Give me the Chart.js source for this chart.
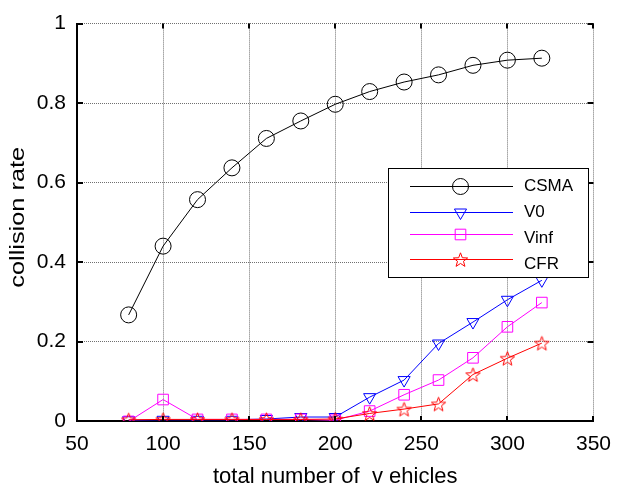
<!DOCTYPE html>
<html>
<head>
<meta charset="utf-8">
<script src="https://cdn.jsdelivr.net/npm/chart.js@4/dist/chart.umd.min.js"></script>
<style>
  html, body { margin: 0; padding: 0; background: #fff; }
  #wrap { width: 622px; height: 495px; }
</style>
</head>
<body>
<div id="wrap"><canvas id="c" width="622" height="495"></canvas></div>
<script>
// ---------- DATA ----------
const vehicles = [80, 100, 120, 140, 160, 180, 200, 220, 240, 260, 280, 300, 320];
const csma = [0.267, 0.440, 0.557, 0.637, 0.711, 0.755, 0.797, 0.829, 0.853, 0.871, 0.895, 0.908, 0.913];
const v0   = [0.002, 0.003, 0.003, 0.003, 0.005, 0.010, 0.010, 0.060, 0.103, 0.195, 0.249, 0.305, 0.354];
const vinf = [-0.001, 0.054, 0.004, 0.004, 0.004, 0.004, 0.002, 0.025, 0.066, 0.103, 0.159, 0.237, 0.298];
const cfr  = [0.003, 0.004, 0.004, 0.004, 0.004, 0.004, 0.005, 0.019, 0.030, 0.043, 0.117, 0.158, 0.196];
const seriesNames = ['CSMA', 'V0', 'Vinf', 'CFR'];
const xTicks = [50, 100, 150, 200, 250, 300, 350];
const yTicks = [0, 0.2, 0.4, 0.6, 0.8, 1];
const xTitle = 'total number of  v ehicles';
const yTitle = 'collision rate';

const FONT = 'Arial, "Liberation Sans", Helvetica, sans-serif';
Chart.defaults.font.family = FONT;
Chart.defaults.color = '#000';

// ---------- star marker (Chart.js 'star' is an asterisk) ----------
function starImage(color, r) {
  const s = Math.ceil(r * 2 + 4);
  const cv = document.createElement('canvas');
  cv.width = s; cv.height = s;
  const g = cv.getContext('2d');
  g.strokeStyle = color; g.lineWidth = 1;
  g.beginPath();
  for (let i = 0; i < 10; i++) {
    const rr = i % 2 ? r * 0.42 : r;
    const a = -Math.PI / 2 + i * Math.PI / 5;
    const px = s / 2 + Math.cos(a) * rr, py = s / 2 + Math.sin(a) * rr + 0.8;
    i ? g.lineTo(px, py) : g.moveTo(px, py);
  }
  g.closePath(); g.stroke();
  return cv;
}
const star = starImage('#ff0000', 7.5);

const pts = (ys) => vehicles.map((x, i) => ({ x, y: ys[i] }));

const sets = [
  { label: 'CSMA', data: pts(csma), borderColor: '#000', pointStyle: 'circle', pointRadius: 8, pointRotation: 0, order: 3 },
  { label: 'V0', data: pts(v0), borderColor: '#0000ff', pointStyle: 'triangle', pointRadius: 7, pointRotation: 180, order: 2 },
  { label: 'Vinf', data: pts(vinf), borderColor: '#ff00ff', pointStyle: 'rect', pointRadius: 7.5, pointRotation: 0, order: 1 },
  { label: 'CFR', data: pts(cfr), borderColor: '#ff0000', pointStyle: star, pointRadius: 8, pointRotation: 0, order: 0 }
].map(d => Object.assign(d, {
  borderWidth: 1,
  pointBorderColor: d.borderColor,
  pointBackgroundColor: 'rgba(0,0,0,0)',
  pointBorderWidth: 1,
  tension: 0,
  fill: false
}));

// ---------- inward tick marks (MATLAB style) ----------
const tickMarks = {
  id: 'tickMarks',
  afterDatasetsDraw(chart) {
    const { ctx, chartArea: a, scales: { x, y } } = chart;
    ctx.save();
    ctx.strokeStyle = '#000';
    ctx.lineWidth = 2;
    ctx.beginPath();
    xTicks.forEach(v => {
      const px = Math.round(x.getPixelForValue(v));
      ctx.moveTo(px, a.bottom); ctx.lineTo(px, a.bottom - 5);
      ctx.moveTo(px, a.top); ctx.lineTo(px, a.top + 5);
    });
    yTicks.forEach(v => {
      const py = Math.round(y.getPixelForValue(v));
      ctx.moveTo(a.left, py); ctx.lineTo(a.left + 6, py);
      ctx.moveTo(a.right, py); ctx.lineTo(a.right - 6, py);
    });
    ctx.stroke();
    ctx.restore();
  }
};

// y title: the original is stretched along its length
const yTitlePlugin = {
  id: 'yTitlePlugin',
  afterDraw(chart) {
    const { ctx, chartArea: a } = chart;
    ctx.save();
    ctx.translate(19, (a.top + a.bottom) / 2 - 5);
    ctx.rotate(-Math.PI / 2);
    ctx.scale(1.3, 1);
    ctx.font = '19.5px ' + FONT;
    ctx.fillStyle = '#000';
    ctx.textAlign = 'center';
    ctx.textBaseline = 'middle';
    ctx.fillText(yTitle, 0, 0);
    ctx.restore();
  }
};

// ---------- legend box, inside the plot ----------
const boxLegend = {
  id: 'boxLegend',
  afterDraw(chart) {
    const { ctx } = chart;
    const bx = 388.5, by = 168.5, bw = 200, bh = 109;
    const rowsY = [185.5, 211.5, 233.5, 258.5];
    const textY = [186.5, 212.5, 238.5, 264.5];
    ctx.save();
    ctx.fillStyle = '#fff';
    ctx.fillRect(bx, by, bw, bh);
    ctx.strokeStyle = '#000';
    ctx.lineWidth = 1;
    ctx.strokeRect(bx, by, bw, bh);
    chart.data.datasets.forEach((d, i) => {
      const yy = Math.round(rowsY[i]) + 0.5;
      ctx.strokeStyle = d.borderColor;
      ctx.lineWidth = 1;
      ctx.beginPath(); ctx.moveTo(410, yy); ctx.lineTo(513, yy); ctx.stroke();
      ctx.fillStyle = 'rgba(0,0,0,0)';
      Chart.helpers.drawPoint(ctx, {
        pointStyle: d.pointStyle, radius: d.pointRadius, rotation: d.pointRotation, borderWidth: 1
      }, 460.5, yy);
      ctx.fillStyle = '#000';
      ctx.font = '17px ' + FONT;
      ctx.textBaseline = 'middle';
      ctx.textAlign = 'left';
      ctx.fillText(seriesNames[i], 524, textY[i]);
    });
    ctx.restore();
  }
};

new Chart(document.getElementById('c'), {
  type: 'line',
  data: { datasets: sets },
  options: {
    responsive: false,
    animation: false,
    devicePixelRatio: 1,
    layout: { padding: { top: 20, right: 21, left: 0, bottom: 0 } },
    plugins: { legend: { display: false }, tooltip: { enabled: false } },
    scales: {
      x: {
        type: 'linear', min: 50, max: 350,
        afterBuildTicks: s => { s.ticks = xTicks.map(v => ({ value: v })); },
        afterFit: s => { s.height = 74; },
        ticks: { font: { size: 21 }, padding: 11, maxRotation: 0, autoSkip: false },
        grid: { color: '#707070', drawTicks: false, lineWidth: 1 },
        border: { display: true, color: '#000', width: 2, dash: [1, 1] },
        title: { display: true, text: xTitle, font: { size: 22 }, padding: { top: 0, bottom: 5 } }
      },
      y: {
        type: 'linear', min: 0, max: 1,
        afterBuildTicks: s => { s.ticks = yTicks.map(v => ({ value: v })); },
        afterFit: s => { s.width = 77; },
        ticks: { font: { size: 21 }, padding: 11, callback: v => String(+v.toFixed(1)) },
        grid: { color: '#707070', drawTicks: false, lineWidth: 1 },
        border: { display: true, color: '#000', width: 2, dash: [1, 1] },
        title: { display: false }
      }
    }
  },
  plugins: [tickMarks, yTitlePlugin, boxLegend]
});
</script>
</body>
</html>
